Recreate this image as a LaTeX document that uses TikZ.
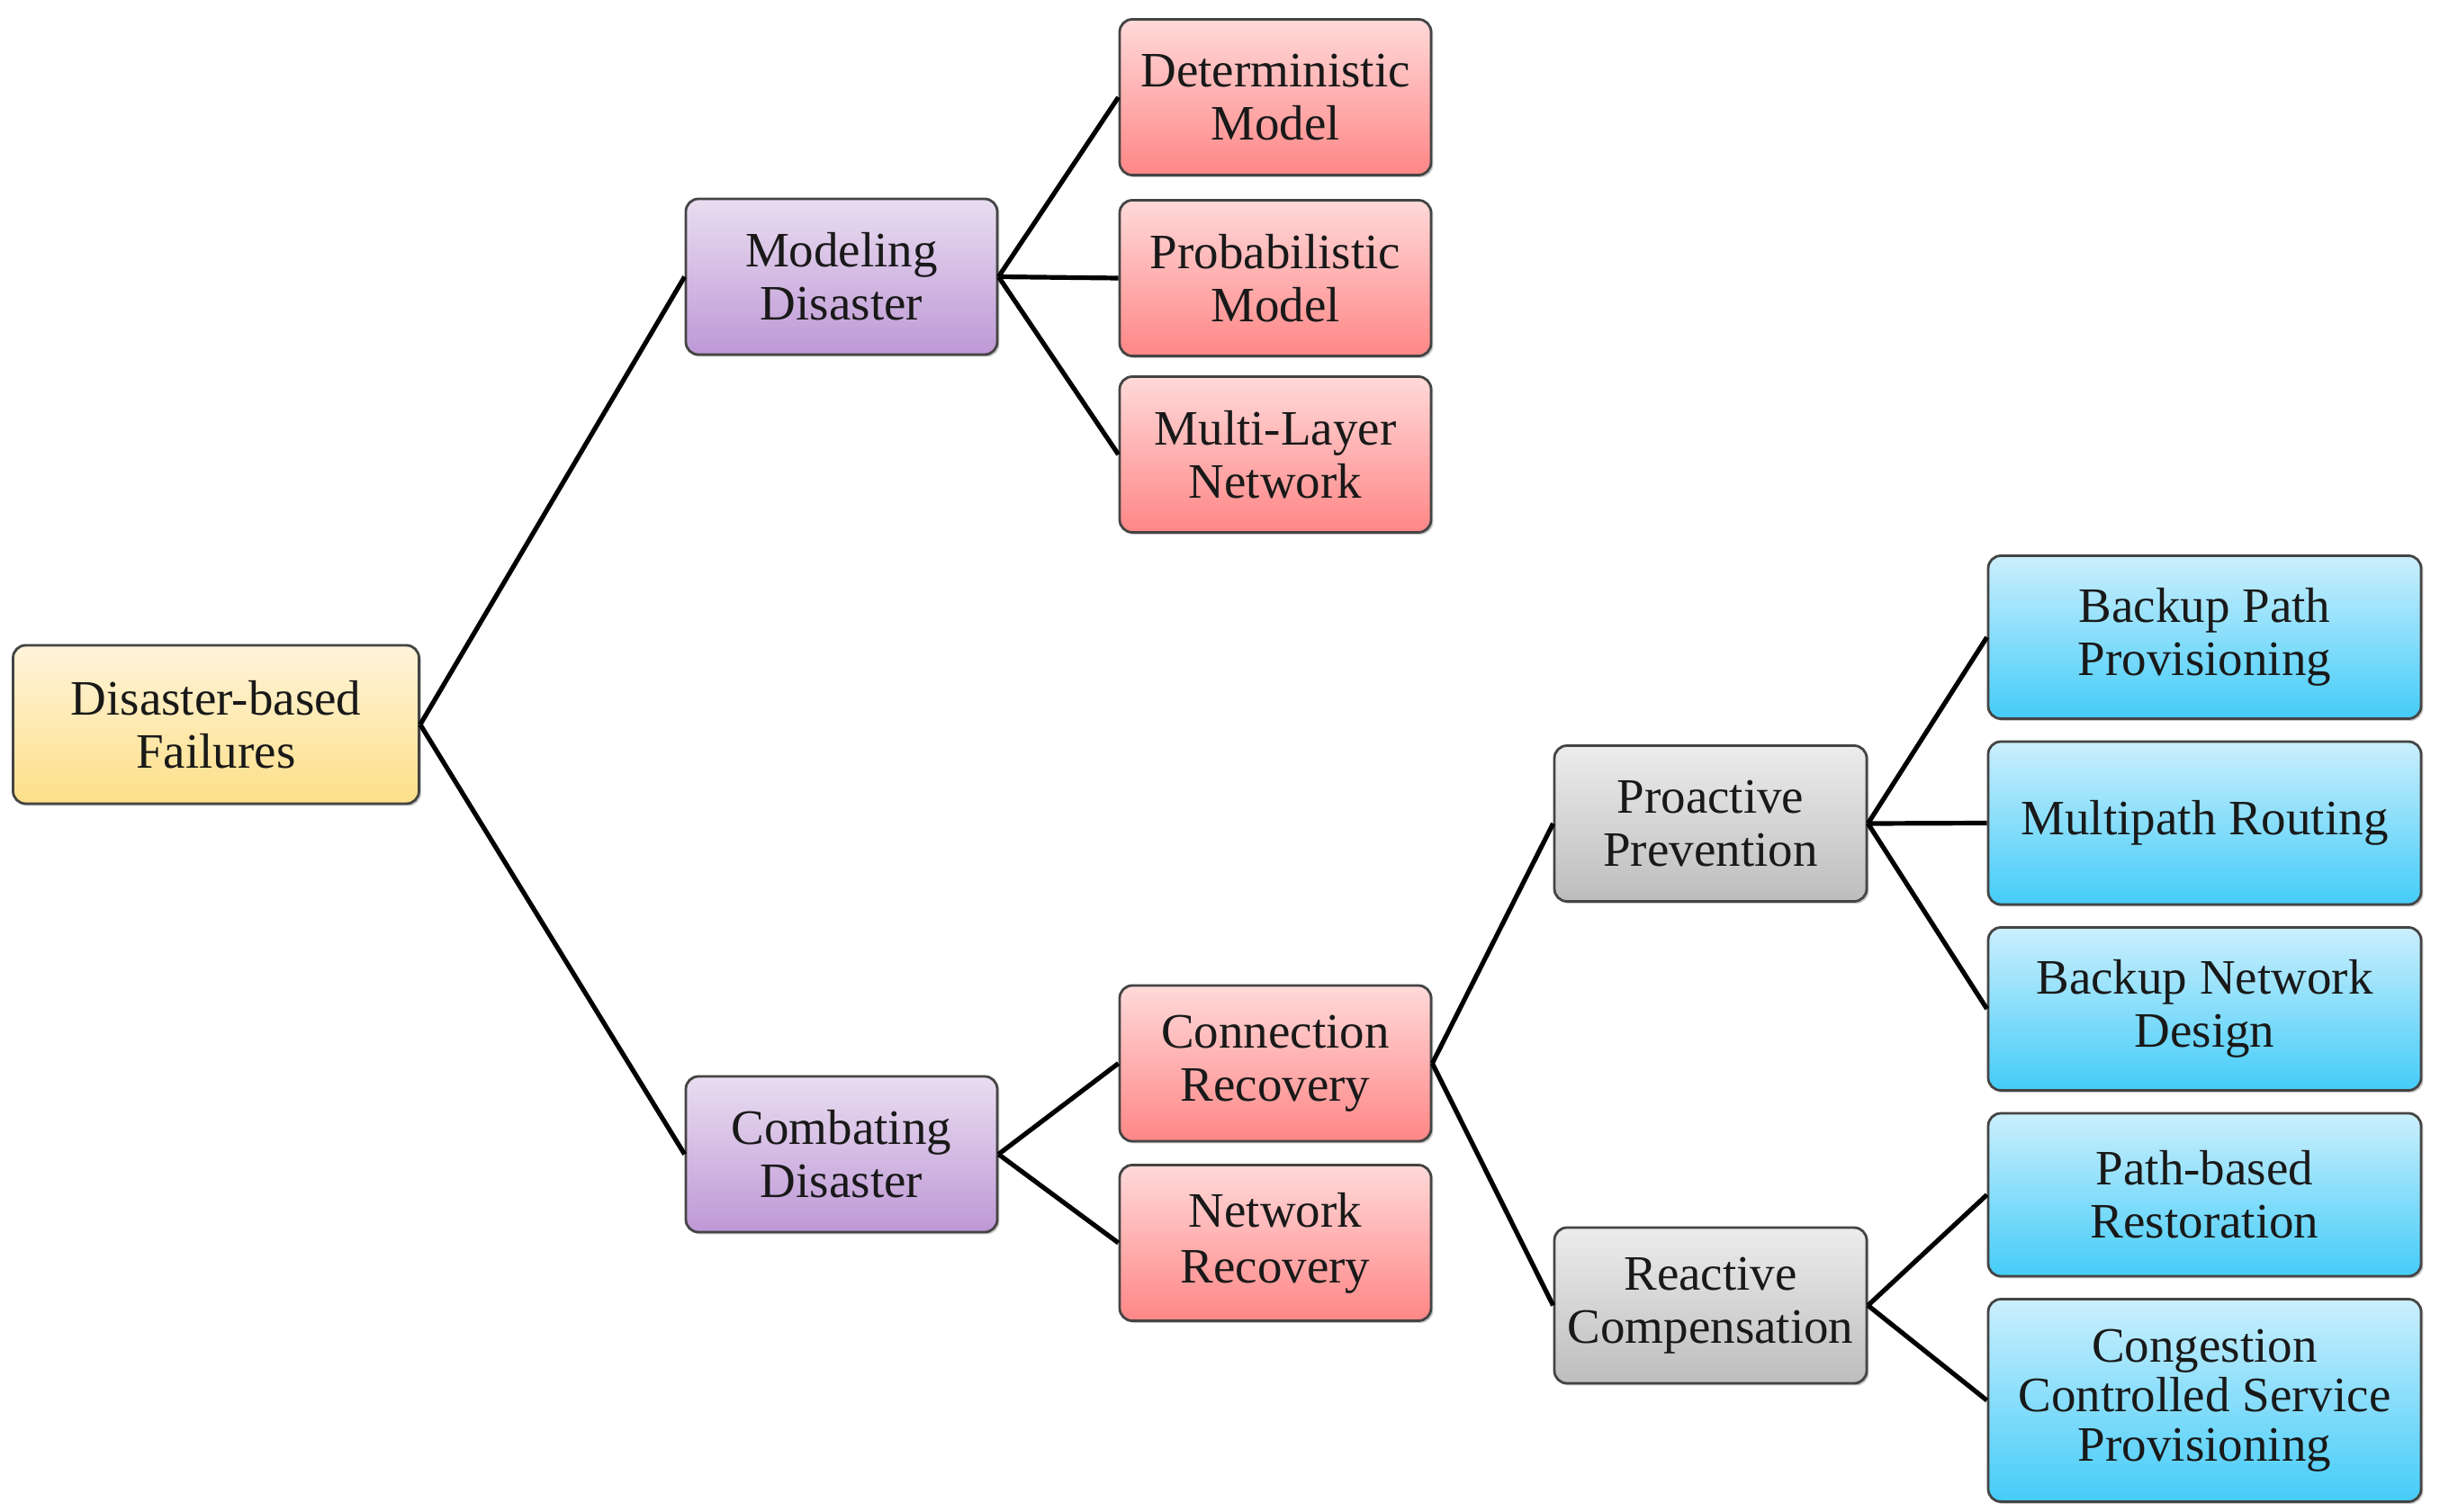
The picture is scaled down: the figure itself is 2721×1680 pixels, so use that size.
\documentclass[tikz,border=0pt]{standalone}
\usepackage{fontspec}
\setmainfont{Liberation Serif}
\usetikzlibrary{shadows}
\definecolor{bordc}{HTML}{444444}
\definecolor{yelT}{HTML}{FFF4DA}\definecolor{yelB}{HTML}{FDDF88}
\definecolor{purT}{HTML}{E9DDF0}\definecolor{purB}{HTML}{BE98D6}
\definecolor{redT}{HTML}{FFD9D9}\definecolor{redB}{HTML}{FF8686}
\definecolor{gryT}{HTML}{ECECEC}\definecolor{gryB}{HTML}{BDBDBD}
\definecolor{bluT}{HTML}{CBEFFD}\definecolor{bluB}{HTML}{44CCF8}
\tikzset{
  box/.style={draw=bordc, line width=1.4pt, rounded corners=7pt, align=center,
    inner sep=0pt, text=black!90, font=\fontsize{27.5}{29.5}\selectfont,
    drop shadow={shadow xshift=1.2pt, shadow yshift=-1.2pt, opacity=0.22, fill=black}},
  sz/.style 2 args={minimum width=#1*0.5pt, minimum height=#2*0.5pt},
  yelbox/.style={box, top color=yelT, bottom color=yelB},
  purbox/.style={box, top color=purT, bottom color=purB},
  redbox/.style={box, top color=redT, bottom color=redB},
  grybox/.style={box, top color=gryT, bottom color=gryB},
  blubox/.style={box, top color=bluT, bottom color=bluB},
  conn/.style={draw=black, line width=2.6pt}
}
\begin{document}
\begin{tikzpicture}[x=0.5pt, y=-0.5pt]
\useasboundingbox (0,0) rectangle (2721,1680);
% root
\node[yelbox, sz={451}{176}] (root) at (240,805) {Disaster-based\\Failures};
% level 1
\node[purbox, sz={346}{173}] (mod) at (935,307.5) {Modeling\\Disaster};
\node[purbox, sz={346}{173}] (com) at (935,1282.5) {Combating\\Disaster};
% level 2
\node[redbox, sz={346}{173}] (det) at (1417,108) {Deterministic\\Model};
\node[redbox, sz={346}{173}] (prob) at (1417,309) {Probabilistic\\Model};
\node[redbox, sz={346}{173}] (multi) at (1417,505) {Multi-Layer\\Network};
\node[redbox, sz={346}{173}] (conrec) at (1417,1181.5) {Connection\\Recovery};
\node[redbox, sz={346}{173}, font=\fontsize{27.5}{31}\selectfont] (netrec) at (1417,1381) {Network\\Recovery};
% level 3
\node[grybox, sz={347}{173}] (pro) at (1900.5,915) {Proactive\\Prevention};
\node[grybox, sz={347}{173}] (rea) at (1900.5,1450.5) {Reactive\\Compensation};
% level 4
\node[blubox, sz={481}{181}] (bpp) at (2449.5,708) {Backup Path\\Provisioning};
\node[blubox, sz={481}{181}] (mpr) at (2449.5,914.5) {Multipath Routing};
\node[blubox, sz={481}{181}] (bnd) at (2449.5,1121) {Backup Network\\Design};
\node[blubox, sz={481}{181}] (pbr) at (2449.5,1327.5) {Path-based\\Restoration};
\node[blubox, sz={481}{225}, font=\fontsize{27.5}{27.5}\selectfont] (ccs) at (2449.5,1556) {Congestion\\Controlled Service\\Provisioning};
% connectors
\draw[conn] (root.east) -- (mod.west);
\draw[conn] (root.east) -- (com.west);
\draw[conn] (mod.east) -- (det.west);
\draw[conn] (mod.east) -- (prob.west);
\draw[conn] (mod.east) -- (multi.west);
\draw[conn] (com.east) -- (conrec.west);
\draw[conn] (com.east) -- (netrec.west);
\draw[conn] (conrec.east) -- (pro.west);
\draw[conn] (conrec.east) -- (rea.west);
\draw[conn] (pro.east) -- (bpp.west);
\draw[conn] (pro.east) -- (mpr.west);
\draw[conn] (pro.east) -- (bnd.west);
\draw[conn] (rea.east) -- (pbr.west);
\draw[conn] (rea.east) -- (ccs.west);
\end{tikzpicture}
\end{document}
